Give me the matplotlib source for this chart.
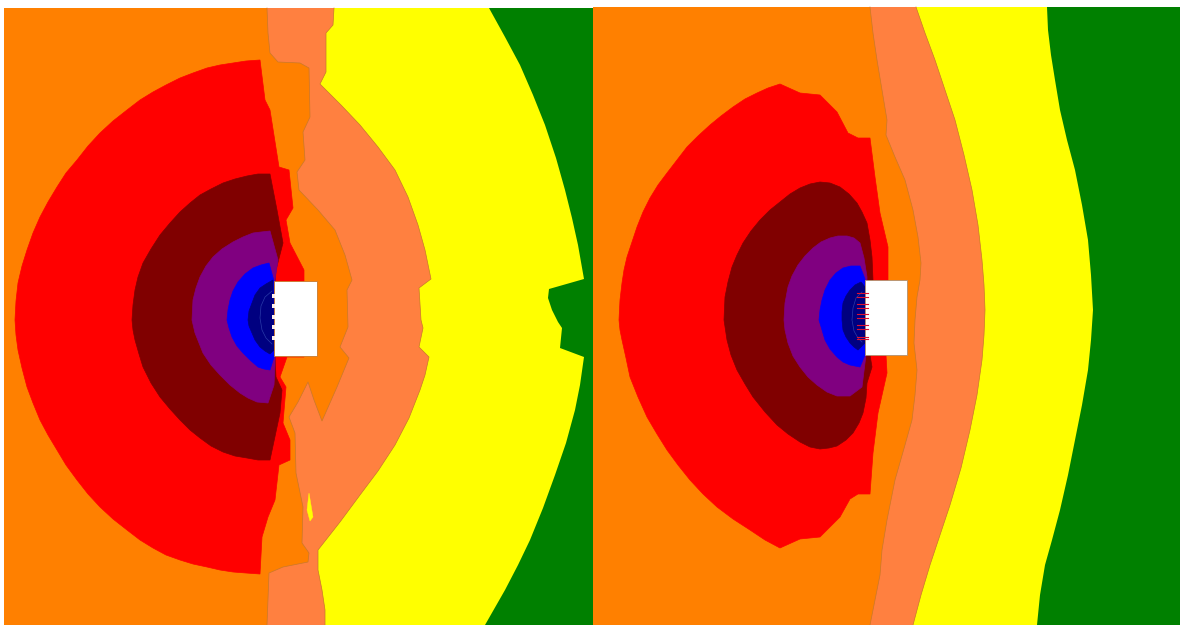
import matplotlib
matplotlib.use("Agg")
from matplotlib import pyplot as plt
from matplotlib.patches import Rectangle

# contour boundaries, in image pixels (x, y)
# left panel
left_yellow_edge = [(489, 8), (505, 37), (520, 65), (533, 95), (545, 125), (556, 158), (565, 190), (572, 218),
                    (578, 245), (584, 279), (549, 289), (548, 298), (552, 310), (558, 322), (562, 328), (560, 348),
                    (584, 357), (580, 385), (575, 410), (566, 443), (555, 475), (543, 508), (530, 540), (518, 565),
                    (505, 590), (485, 625)]
left_coral_edge = [(334, 8), (333, 25), (326, 33), (326, 72), (320, 84), (341, 105), (360, 125), (378, 147),
                   (395, 170), (408, 197), (418, 225), (425, 250), (431, 279), (419, 288), (421, 320), (423, 328),
                   (419, 347), (429, 357), (425, 375), (420, 390), (409, 418), (395, 445), (378, 471), (360, 495),
                   (340, 522), (318, 550), (318, 570), (322, 590), (325, 610), (325, 625)]
left_orange_edge = [(267, 8), (268, 33), (270, 53), (278, 62), (300, 63), (309, 68), (310, 117), (303, 132),
                    (305, 160), (297, 172), (299, 190), (318, 210), (335, 230), (345, 255), (352, 280), (347, 290),
                    (348, 327), (340, 347), (349, 358), (337, 387), (322, 421), (314, 400), (308, 382), (298, 402),
                    (289, 417), (295, 433), (296, 473), (303, 507), (302, 543), (309, 553), (308, 562), (283, 567),
                    (269, 573), (267, 625)]
left_red = [(260, 60), (246, 61), (233, 63), (220, 65), (207, 68), (193, 73), (180, 78), (166, 85), (153, 92),
            (140, 100), (127, 110), (113, 121), (100, 133), (88, 146), (77, 160), (66, 173), (57, 187), (48, 202),
            (40, 217), (33, 233), (27, 250), (22, 266), (18, 283), (16, 301), (15, 320), (16, 335), (18, 350),
            (22, 368), (27, 387), (33, 403), (40, 420), (48, 435), (57, 450), (66, 465), (77, 480), (88, 494),
            (100, 507), (113, 519), (127, 530), (140, 540), (153, 548), (166, 555), (180, 560), (193, 564),
            (207, 567), (220, 570), (233, 572), (246, 573), (260, 574), (262, 537), (268, 517), (275, 500),
            (279, 465), (290, 460), (290, 440), (283, 423), (286, 387), (280, 377), (287, 357), (304, 357),
            (304, 270), (290, 243), (286, 220), (293, 208), (289, 170), (279, 167), (270, 110), (265, 100)]
left_darkred = [(270, 174), (258, 174), (247, 176), (235, 179), (223, 183), (211, 189), (200, 195), (190, 203),
                (180, 212), (170, 223), (160, 235), (151, 249), (143, 263), (138, 277), (135, 290), (133, 305),
                (132, 320), (133, 330), (135, 340), (139, 354), (143, 367), (151, 383), (160, 397), (170, 409),
                (180, 420), (190, 430), (200, 438), (211, 446), (223, 452), (235, 456), (247, 458), (258, 460),
                (270, 460), (280, 413), (282, 390), (276, 377), (275, 357), (275, 282), (276, 270), (283, 243),
                (277, 210)]
left_purple = [(270, 231), (261, 232), (253, 233), (243, 237), (233, 242), (222, 249), (213, 257), (206, 266),
               (200, 277), (196, 288), (193, 300), (192, 320), (195, 333), (203, 353), (211, 365), (220, 375),
               (230, 385), (240, 393), (248, 398), (257, 402), (268, 403), (274, 385), (275, 365), (275, 280),
               (278, 260)]
left_blue = [(269, 263), (261, 265), (253, 268), (245, 274), (238, 282), (233, 291), (230, 300), (228, 310),
             (227, 320), (229, 328), (232, 337), (237, 346), (243, 353), (250, 360), (258, 367), (264, 369),
             (270, 370), (274, 357), (274, 281)]
left_navy = [(273, 280), (266, 284), (260, 288), (255, 295), (252, 303), (249, 311), (248, 320), (249, 326),
             (252, 333), (255, 340), (260, 347), (265, 351), (270, 354), (274, 350)]
left_sliver = [(309, 493), (313, 517), (310, 521), (307, 510)]
left_slits = [296, 306, 317, 327, 338]
left_inner_contour = [(272, 291), (265, 297), (261, 306), (260, 318), (262, 330), (266, 338), (272, 344)]

# right panel
right_yellow_edge = [(1047, 7), (1048, 30), (1051, 55), (1055, 80), (1060, 110), (1067, 140), (1075, 170),
                     (1082, 205), (1088, 240), (1091, 275), (1093, 310), (1091, 340), (1088, 370), (1082, 405),
                     (1075, 440), (1068, 475), (1060, 510), (1052, 540), (1045, 565), (1040, 595), (1037, 625)]
right_coral_edge = [(916, 7), (925, 33), (935, 60), (945, 90), (955, 120), (964, 155), (972, 190), (978, 225),
                    (982, 260), (984, 285), (985, 310), (984, 335), (982, 360), (977, 395), (970, 430), (961, 468),
                    (950, 505), (940, 535), (930, 565), (921, 595), (913, 625)]
right_orange_edge = [(870, 7), (873, 33), (877, 60), (882, 90), (887, 120), (886, 135), (895, 157), (905, 180),
                     (913, 210), (918, 237), (921, 263), (920, 280), (917, 297), (915, 320), (914, 343), (917, 370),
                     (915, 395), (912, 420), (905, 445), (895, 480), (887, 520), (882, 550), (880, 575), (875, 600),
                     (870, 625)]
right_red = [(780, 84), (768, 88), (757, 93), (745, 99), (733, 107), (721, 116), (710, 125), (698, 136), (687, 147),
             (677, 160), (667, 173), (658, 185), (650, 198), (643, 212), (637, 227), (632, 242), (627, 257),
             (624, 270), (622, 283), (620, 300), (619, 320), (620, 330), (622, 340), (626, 358), (630, 377),
             (638, 397), (647, 417), (657, 434), (667, 450), (678, 465), (690, 480), (703, 494), (717, 507),
             (733, 519), (750, 530), (765, 540), (780, 548), (800, 539), (820, 537), (840, 517), (850, 499),
             (858, 494), (870, 494), (873, 453), (878, 413), (887, 373), (886, 355), (888, 280), (888, 247),
             (880, 213), (875, 177), (870, 138), (858, 138), (848, 133), (837, 112), (820, 95), (800, 93)]
right_darkred = [(820, 182), (810, 184), (800, 188), (790, 194), (780, 202), (770, 210), (760, 220), (751, 231),
                 (743, 243), (737, 255), (732, 267), (728, 282), (725, 297), (724, 320), (727, 340), (731, 355),
                 (737, 370), (745, 384), (753, 397), (765, 412), (777, 425), (788, 434), (800, 442), (810, 447),
                 (820, 449), (829, 448), (837, 446), (846, 440), (853, 433), (859, 423), (863, 413), (866, 398),
                 (867, 383), (872, 367), (870, 355), (873, 280), (872, 257), (870, 240), (867, 223), (862, 212),
                 (857, 203), (849, 194), (840, 187), (830, 183)]
right_purple = [(847, 236), (838, 236), (830, 238), (821, 242), (813, 248), (805, 256), (798, 265), (792, 276),
                (788, 287), (785, 303), (784, 320), (785, 330), (788, 343), (793, 356), (800, 367), (808, 377),
                (817, 385), (827, 392), (837, 396), (850, 396), (862, 387), (866, 355), (867, 277), (864, 258),
                (860, 243), (854, 238)]
right_blue = [(860, 266), (851, 266), (843, 268), (836, 273), (830, 280), (825, 290), (822, 300), (820, 310),
              (819, 320), (822, 330), (825, 340), (830, 349), (837, 357), (843, 362), (850, 365), (860, 367),
              (865, 355), (865, 279)]
right_navy = [(861, 282), (855, 285), (850, 290), (846, 296), (843, 303), (842, 312), (842, 320), (843, 330),
              (846, 337), (850, 343), (854, 347), (858, 350), (865, 343), (865, 287)]
right_inner_contour = [(862, 292), (856, 298), (853, 308), (852, 320), (854, 331), (858, 338), (862, 342)]
right_ticks = [293, 297, 304, 308, 314, 318, 325, 329, 337, 339]

GREEN = '#008000'
YELLOW = '#ffff00'
CORAL = '#ff8040'
ORANGE = '#ff8000'
RED = '#ff0000'
DARKRED = '#800000'
PURPLE = '#800080'
BLUE = '#0000ff'
NAVY = '#000080'
LINE = '#c8782a'


def fill(ax, pts, color, lw=0.5):
    xs = [p[0] for p in pts]
    ys = [p[1] for p in pts]
    ax.fill(xs, ys, facecolor=color, edgecolor=color, linewidth=lw)


def fill_open(ax, pts, color, x0, stroke=None):
    # close a top-to-bottom contour along the left side of its panel, stroke only the contour
    closed = pts + [(x0, pts[-1][1]), (x0, pts[0][1])]
    ax.fill([p[0] for p in closed], [p[1] for p in closed], facecolor=color, edgecolor='none')
    if stroke:
        ax.plot([p[0] for p in pts], [p[1] for p in pts], color=stroke, lw=0.5)


def panel(ax, x0, x1, top, yellow, coral, orange, red, darkred, purple, blue, navy):
    ax.add_patch(Rectangle((x0, top), x1 - x0, 625 - top, facecolor=GREEN, edgecolor='none'))
    fill_open(ax, yellow, YELLOW, x0)
    fill_open(ax, coral, CORAL, x0, LINE)
    fill_open(ax, orange, ORANGE, x0, LINE)
    fill(ax, red, RED)
    fill(ax, darkred, DARKRED)
    fill(ax, purple, PURPLE)
    fill(ax, blue, BLUE)
    fill(ax, navy, NAVY)


fig = plt.figure(figsize=(11.8, 6.25), dpi=100)
ax = fig.add_axes([0, 0, 1, 1])
ax.set_xlim(0, 1180)
ax.set_ylim(625, 0)
ax.axis('off')

panel(ax, 4, 593, 8, left_yellow_edge, left_coral_edge, left_orange_edge, left_red, left_darkred,
      left_purple, left_blue, left_navy)
panel(ax, 593, 1180, 7, right_yellow_edge, right_coral_edge, right_orange_edge, right_red, right_darkred,
      right_purple, right_blue, right_navy)

fill(ax, left_sliver, YELLOW, 0.3)

# faint inner contours in the navy zone
for line in (left_inner_contour, right_inner_contour):
    ax.plot([p[0] for p in line], [p[1] for p in line], color='#2a3aa8', lw=0.5, zorder=4)

# the block itself
ax.add_patch(Rectangle((274, 281), 43, 75, facecolor='white', edgecolor=LINE, linewidth=0.6, zorder=5))
ax.add_patch(Rectangle((865, 280), 42, 75, facecolor='white', edgecolor='#b09070', linewidth=0.6, zorder=5))

# slits on the left block, tick marks on the right one
for y in left_slits:
    ax.add_patch(Rectangle((271.5, y - 2), 3, 4, facecolor='#fff0e8', edgecolor='none', zorder=6))
for y in right_ticks:
    ax.plot([857, 868], [y, y], color='#e01030', lw=0.8, zorder=6)

fig.savefig('out.png', dpi=100)
